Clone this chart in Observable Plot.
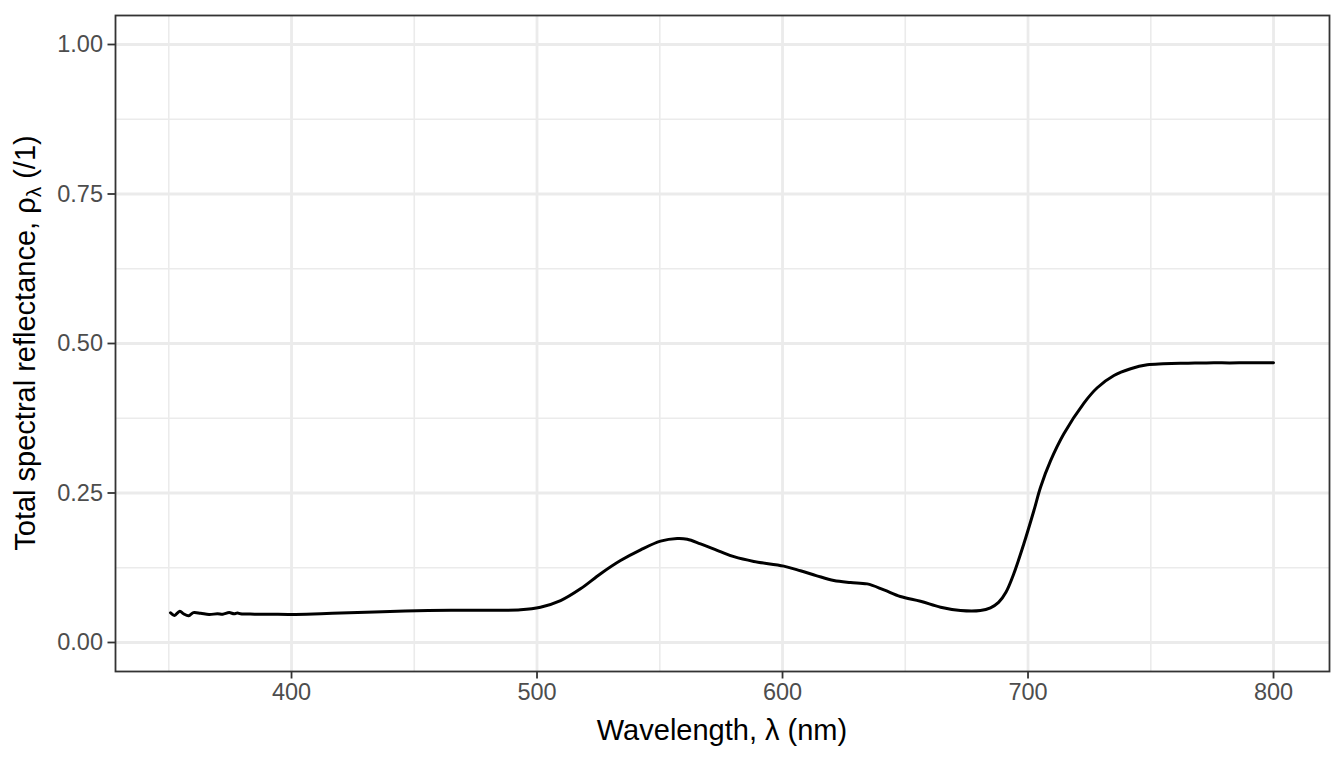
<!DOCTYPE html>
<html>
<head>
<meta charset="utf-8">
<script src="https://cdn.jsdelivr.net/npm/d3@7"></script>
<script src="https://cdn.jsdelivr.net/npm/@observablehq/plot@0.6"></script>
<style>
  html, body { margin: 0; padding: 0; background: #fff; }
  #chart { width: 1344px; height: 768px; }
</style>
</head>
<body>
<div id="chart"></div>
<script>
// Wavelength (nm)
const wavelength = [350.7, 352.3, 354.5, 356, 358.1, 360, 363, 366.4, 369.8, 372, 374.6, 376.6, 378, 379.2, 385, 392, 400, 412, 423.5, 437, 451, 465, 478, 493.3, 501.4, 509.6, 517.7, 525.9, 534, 542.2, 550.3, 557.1, 561.2, 566.6, 574.7, 580.2, 588.3, 600.5, 607.3, 614, 620.9, 627.7, 634.5, 641.3, 648, 656.2, 664.4, 672.5, 680.6, 684.7, 688, 691, 694.2, 698.3, 702.4, 705.1, 709.2, 714.6, 722.7, 728.2, 735, 741.8, 748.6, 755, 762.1, 768, 775.7, 782, 790, 800];
// Total spectral reflectance (/1)
const reflectance = [0.0496, 0.0452, 0.0524, 0.048, 0.0446, 0.050, 0.0488, 0.0468, 0.048, 0.0474, 0.050, 0.048, 0.0494, 0.048, 0.0474, 0.0472, 0.047, 0.0482, 0.0496, 0.0515, 0.053, 0.0538, 0.054, 0.0547, 0.059, 0.070, 0.0897, 0.115, 0.137, 0.155, 0.1695, 0.174, 0.1728, 0.165, 0.152, 0.1435, 0.1355, 0.1277, 0.120, 0.1115, 0.1037, 0.1003, 0.098, 0.088, 0.077, 0.069, 0.059, 0.0535, 0.0535, 0.058, 0.067, 0.084, 0.115, 0.165, 0.2207, 0.2597, 0.304, 0.349, 0.400, 0.426, 0.4465, 0.4577, 0.4643, 0.466, 0.467, 0.4672, 0.468, 0.4675, 0.468, 0.4677];

const xMajor = [400, 500, 600, 700, 800];
const xMinor = [350, 450, 550, 650, 750];
const yMajor = [0, 0.25, 0.5, 0.75, 1.0];
const yMinor = [0.125, 0.375, 0.625, 0.875];
const yTickLabels = ["0.00", "0.25", "0.50", "0.75", "1.00"];

const data = wavelength.map((w, i) => ({w, r: reflectance[i]}));

const plot = Plot.plot({
  width: 1344,
  height: 768,
  marginLeft: 115,
  marginRight: 15,
  marginTop: 15,
  marginBottom: 97,
  style: {fontFamily: "'Liberation Sans', Arial, sans-serif", background: "#fff"},
  x: {domain: [328.3, 822.8]},
  y: {domain: [-0.0485, 1.0485]},
  marks: [
    Plot.ruleX(xMinor, {stroke: "#ebebeb", strokeWidth: 1.6}),
    Plot.ruleY(yMinor, {stroke: "#ebebeb", strokeWidth: 1.6}),
    Plot.ruleX(xMajor, {stroke: "#ebebeb", strokeWidth: 2.8}),
    Plot.ruleY(yMajor, {stroke: "#ebebeb", strokeWidth: 2.8}),
    Plot.line(data, {x: "w", y: "r", stroke: "#000", strokeWidth: 3, curve: "catmull-rom"}),
    Plot.frame({stroke: "#333", strokeWidth: 1.8}),
    Plot.axisX(xMajor, {tickSize: 7.5, tickPadding: 4, stroke: "#333", strokeWidth: 1.8, fill: "#4d4d4d", fontSize: 23.5, label: null}),
    Plot.axisY(yMajor, {tickSize: 7.5, tickPadding: 5, stroke: "#333", strokeWidth: 1.8, fill: "#4d4d4d", fontSize: 23.5, label: null,
      tickFormat: (d) => yTickLabels[yMajor.indexOf(d)]})
  ]
});

const svg = d3.select(plot);
// x axis title
svg.append("text")
  .attr("x", 722).attr("y", 740)
  .attr("text-anchor", "middle")
  .attr("font-size", 29)
  .attr("fill", "#000")
  .text("Wavelength, λ (nm)");
// y axis title with subscript
const yt = svg.append("text")
  .attr("transform", "translate(35,343) rotate(-90)")
  .attr("text-anchor", "middle")
  .attr("font-size", 29)
  .attr("fill", "#000");
yt.append("tspan").text("Total spectral reflectance, ρ");
yt.append("tspan").attr("font-size", 21).attr("dy", 6).text("λ");
yt.append("tspan").attr("dy", -6).text(" (/1)");

document.getElementById("chart").appendChild(plot);
</script>
</body>
</html>
